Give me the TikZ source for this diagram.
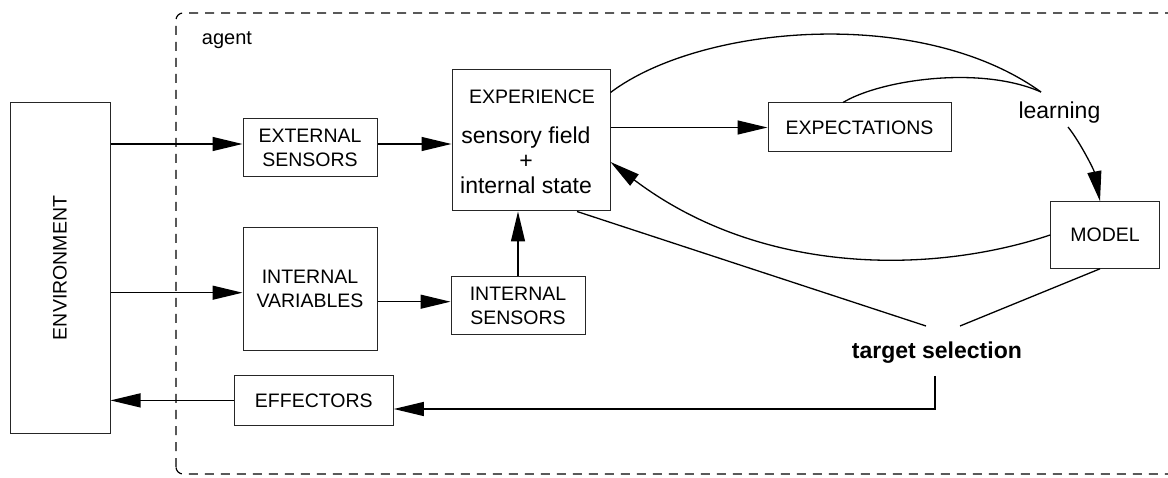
\documentclass[tikz,border=0pt]{standalone}
\usepackage{fontspec}
\setmainfont{Liberation Sans}
\usetikzlibrary{arrows.meta,calc}

\tikzset{
  box/.style={draw=black!85, line width=1pt, inner sep=0pt, align=center,
    font=\fontsize{19.5}{24}\selectfont},
  lbl/.style={inner sep=0pt, font=\fontsize{19.5}{24}\selectfont},
  big/.style={inner sep=0pt, font=\fontsize{23}{25}\selectfont},
  conn/.style={line width=1.3pt},
  arr/.style={conn, -{Triangle[length=30pt,width=14pt]}},
  border/.style={line width=1.2pt, dash pattern=on 9pt off 7pt, rounded corners=7pt}
}

\begin{document}
\begin{tikzpicture}[x=1pt, y=-1pt]
\useasboundingbox (0,0) rectangle (1168,478);
\clip (0,0) rectangle (1168,478);

% agent boundary
\draw[border] (176,474) -- (176,13) -- (1190,13) -- (1190,474) -- cycle;
\node[lbl, anchor=base west, font=\fontsize{20}{24}\selectfont] (agent) at (201.7,44.3) {agent};

% blocks
\node[box, minimum width=100, minimum height=330] (env) at (60,268) {};
\node[lbl, rotate=90] (envtxt) at (env.center) {ENVIRONMENT};
\node[box, minimum width=134, minimum height=58] (ext) at (310,148) {EXTERNAL\\SENSORS};
\node[box, minimum width=134, minimum height=123] (intvar) at (310,289.2) {INTERNAL\\VARIABLES};
\node[box, minimum width=134, minimum height=57.6] (intsens) at (518,305.5) {INTERNAL\\SENSORS};
\node[box, minimum width=159, minimum height=49.3] (eff) at (313.8,400.4) {EFFECTORS};
\node[box, minimum width=158, minimum height=141] (exp) at (531,140.5) {};
\node[box, minimum width=183, minimum height=49] (expect) at (859.5,127.5) {EXPECTATIONS};
\node[box, minimum width=108.6, minimum height=66.6] (model) at (1105,235) {MODEL};

% contents of the experience block
\node[lbl, anchor=base] (exptitle) at (532,103.3) {EXPERIENCE};
\node[big, anchor=base] (sfield) at (526,143.3) {sensory field};
\node[big, anchor=base] (plus) at (526,169) {+};
\node[big, anchor=base] (istate) at (526,193.3) {internal state};

% free labels
\node[big, anchor=base west] (learn) at (1018.3,119) {learning};
\node[big, anchor=base west, font=\fontsize{23}{25}\selectfont\bfseries] (target) at (851.7,358.3) {target selection};

% connector ends at the free labels
\coordinate (learnin) at (1041,92);
\coordinate (learnout) at (1068,127);
\coordinate (tsin1) at (926,326);
\coordinate (tsin2) at (960,326);
\coordinate (tsout) at (935,376);
\coordinate (extin) at ([yshift=4]ext.west);
\coordinate (extout) at ([yshift=4]ext.east);
\coordinate (ivin) at ([yshift=-3.5]intvar.west);
\coordinate (isin) at ([yshift=3.8]intsens.west);
\coordinate (expin) at ([yshift=-21.5]exp.east);

% signal flow
\draw[arr] (env.east |- extin) -- (extin);
\draw[arr] (env.east |- ivin) -- (ivin);
\draw[arr] (extout) -- (exp.west |- extout);
\draw[arr] (intvar.east |- isin) -- (isin);
\draw[arr] (intsens.north) -- (intsens.north |- exp.south);
\draw[arr] (exp.east |- expect.west) -- (expect.west);
\draw[arr] (eff.west) -- (env.east |- eff.west);

% learning loop
\draw[conn] ([yshift=-23]exp.north east) .. controls (700,25) and (920,5) .. (learnin);
\draw[conn] ([xshift=-16.5]expect.north) .. controls (880,80) and (980,65) .. (learnin);
\draw[arr] (learnout) .. controls (1080,142) and (1094,170) .. ([xshift=-5]model.north);
\draw[arr] (model.west) .. controls (930,275) and (760,275) .. (expin);

% target selection
\draw[conn] ([xshift=46]exp.south) -- (tsin1);
\draw[conn] ([xshift=-5]model.south) -- (tsin2);
\draw[arr] (tsout) -- (tsout |- 0,409) -- (eff.east |- 0,409);
\end{tikzpicture}
\end{document}
